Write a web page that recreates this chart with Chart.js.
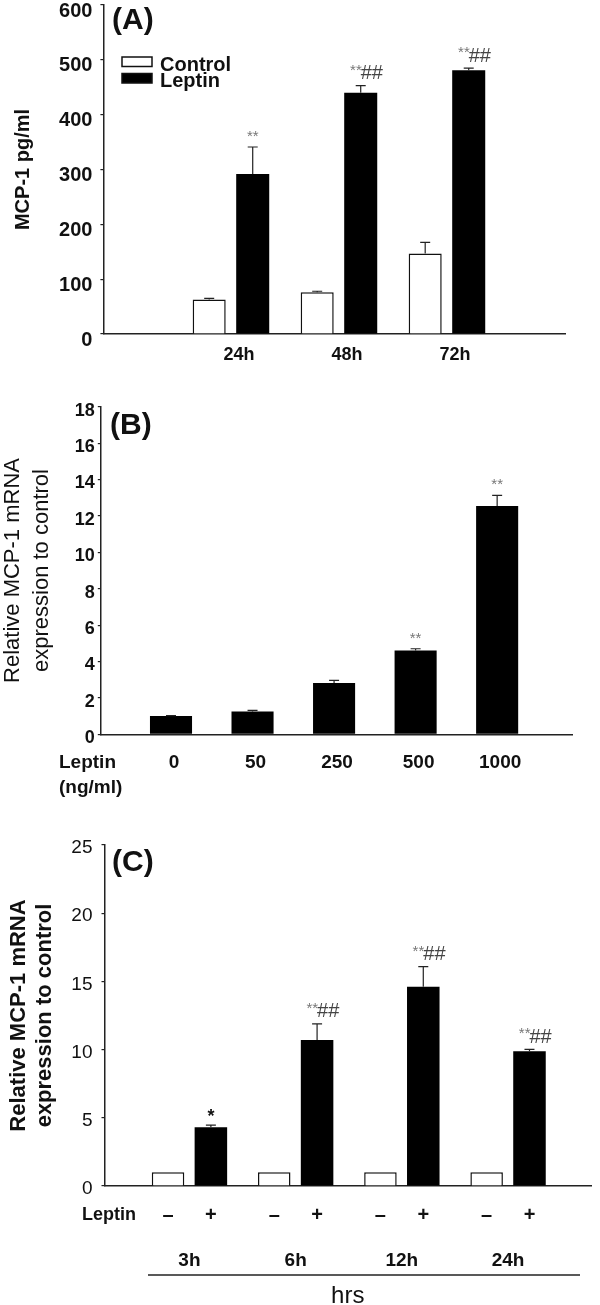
<!DOCTYPE html>
<html>
<head>
<meta charset="utf-8">
<script src="https://cdn.jsdelivr.net/npm/chart.js@4.4.1/dist/chart.umd.min.js"></script>
<style>
  body { margin: 0; background: #fff; width: 600px; height: 1305px; position: relative; overflow: hidden; }
  .panel { position: absolute; left: 0; width: 600px; }
</style>
</head>
<body>
<div class="panel" style="top:0;height:400px"><canvas id="chartA"></canvas></div>
<div class="panel" style="top:400px;height:420px"><canvas id="chartB"></canvas></div>
<div class="panel" style="top:820px;height:485px"><canvas id="chartC"></canvas></div>
<script>
// Panel A - MCP-1 protein over time
const hoursA = ['24h', '48h', '72h'];
const controlA = [63, 76, 147];
const controlErrA = [2, 2, 20];
const leptinA = [292, 440, 481];
const leptinErrA = [49, 13, 4];
const marksA = ['**', '**##', '**##'];

// Panel B - dose response
const dosesB = ['0', '50', '250', '500', '1000'];
const leptinB = [1.0, 1.25, 2.82, 4.6, 12.55];
const leptinErrB = [0.03, 0.07, 0.14, 0.1, 0.58];
const marksB = ['', '', '', '**', '**'];

// Panel C - mRNA time course
const hoursC = ['3h', '6h', '12h', '24h'];
const controlC = [1, 1, 1, 1];
const leptinC = [4.3, 10.7, 14.6, 9.87];
const leptinErrC = [0.17, 1.18, 1.48, 0.15];
const marksC = ['*', '**##', '**##', '**##'];

const FONT = '"Liberation Sans", Arial, sans-serif';
const INK = '#111';

const xy = arr => arr.map((v, i) => ({ x: i + 1, y: v }));

// error bars (upper half only) + significance marks
const errorBars = {
  id: 'errorBars',
  afterDatasetsDraw(chart) {
    const ctx = chart.ctx;
    const yScale = chart.scales.y;
    chart.data.datasets.forEach((ds, di) => {
      if (!ds.errors) return;
      const meta = chart.getDatasetMeta(di);
      meta.data.forEach((bar, i) => {
        const v = ds.data[i].y;
        const err = ds.errors[i];
        const top = yScale.getPixelForValue(v + err);
        ctx.save();
        if (err > 0) {
          ctx.strokeStyle = '#222';
          ctx.lineWidth = 1.2;
          ctx.beginPath();
          ctx.moveTo(bar.x, bar.y);
          ctx.lineTo(bar.x, top);
          ctx.moveTo(bar.x - 5, top);
          ctx.lineTo(bar.x + 5, top);
          ctx.stroke();
        }
        const m = ds.marks ? ds.marks[i] : '';
        if (m) {
          const stars = m.replace(/#/g, '');
          const hashes = m.replace(/\*/g, '');
          ctx.textBaseline = 'middle';
          if (hashes) {
            ctx.font = '15px ' + FONT;
            ctx.fillStyle = '#777';
            ctx.textAlign = 'right';
            ctx.fillText(stars, bar.x + 1, top - 15);
            ctx.font = '20px ' + FONT;
            ctx.fillStyle = '#444';
            ctx.textAlign = 'left';
            ctx.textBaseline = 'bottom';
            ctx.fillText(hashes, bar.x, top - 2);
          } else if (stars === '*') {
            ctx.font = 'bold 18px ' + FONT;
            ctx.fillStyle = INK;
            ctx.textAlign = 'center';
            ctx.fillText(stars, bar.x, top - 8);
          } else {
            ctx.font = '15px ' + FONT;
            ctx.fillStyle = '#777';
            ctx.textAlign = 'center';
            ctx.fillText(stars, bar.x, top - 10);
          }
        }
        ctx.restore();
      });
    });
  }
};

// panel letters, legend and extra labels
const decor = {
  id: 'decor',
  afterDraw(chart, args, opts) {
    const ctx = chart.ctx;
    ctx.save();
    ctx.fillStyle = INK;
    ctx.textBaseline = 'middle';
    (opts.texts || []).forEach(t => {
      ctx.font = t.font;
      ctx.textAlign = t.align || 'left';
      ctx.fillText(t.text, t.x, t.y);
    });
    if (opts.legend) {
      const lg = opts.legend;
      chart.data.datasets.forEach((ds, i) => {
        const y = lg.y + i * lg.step;
        ctx.fillStyle = ds.backgroundColor;
        ctx.fillRect(lg.x, y, 30, 9.5);
        ctx.strokeStyle = INK;
        ctx.lineWidth = 1.5;
        ctx.strokeRect(lg.x, y, 30, 9.5);
        ctx.fillStyle = INK;
        ctx.font = 'bold 20px ' + FONT;
        ctx.textAlign = 'left';
        ctx.fillText(ds.label, lg.x + 38, y + lg.textDy);
      });
    }
    if (opts.signRow) {
      const r = opts.signRow;
      ctx.font = 'bold 20px ' + FONT;
      ctx.textAlign = 'center';
      chart.data.datasets.forEach((ds, di) => {
        chart.getDatasetMeta(di).data.forEach(bar => {
          ctx.fillText(ds.sign, bar.x, r.y);
        });
      });
      ctx.strokeStyle = '#222';
      ctx.lineWidth = 1.5;
      ctx.beginPath();
      ctx.moveTo(r.lineFrom, r.lineY);
      ctx.lineTo(r.lineTo, r.lineY);
      ctx.stroke();
    }
    ctx.restore();
  }
};

Chart.register(errorBars, decor);

function yAxis(min, max, step, width, tick, title) {
  return {
    min: min, max: max,
    afterFit(scale) { scale.width = width; scale.paddingTop = 0; scale.paddingBottom = 0; },
    grid: { drawOnChartArea: false, drawTicks: true, tickLength: 3, color: '#222', lineWidth: 1.2 },
    border: { display: true, color: '#222', width: 1.5 },
    ticks: { stepSize: step, padding: tick.padding, labelOffset: tick.offset, color: INK, font: tick.font },
    title: title
  };
}

function xAxis(min, max, labels, height, padding, labelOffset, font, title) {
  return {
    type: 'linear',
    offset: false,
    min: min, max: max,
    afterFit(scale) { scale.height = height; scale.paddingLeft = 0; scale.paddingRight = 0; },
    grid: { display: false, drawTicks: false, offset: false },
    border: { display: true, color: '#222', width: 1.5 },
    ticks: {
      stepSize: 1, includeBounds: false, autoSkip: false, maxRotation: 0,
      padding: padding, labelOffset: labelOffset, color: INK, font: font,
      callback: v => labels[v - 1] ?? ''
    },
    title: title || { display: false }
  };
}

const common = {
  responsive: true,
  maintainAspectRatio: false,
  animation: false,
  events: []
};

// (A)
new Chart(document.getElementById('chartA'), {
  type: 'bar',
  data: {
    datasets: [{
      label: 'Control',
      data: xy(controlA),
      errors: controlErrA,
      backgroundColor: '#ffffff',
      borderColor: INK,
      borderWidth: 1.5,
      categoryPercentage: 0.806,
      barPercentage: 0.759
    }, {
      label: 'Leptin',
      data: xy(leptinA),
      errors: leptinErrA,
      marks: marksA,
      backgroundColor: '#000000',
      borderColor: '#000000',
      borderWidth: 0,
      categoryPercentage: 0.806,
      barPercentage: 0.759
    }]
  },
  options: {
    ...common,
    layout: { padding: { top: 5, right: 35, left: 0, bottom: 0 } },
    scales: {
      x: xAxis(-0.181, 4.093, hoursA, 66, 10, 8, { family: FONT, size: 18, weight: 'bold' }),
      y: yAxis(0, 600, 100, 103.4,
        { padding: 8, offset: 6, font: { family: FONT, size: 20, weight: 'bold' } }, {
        display: true, text: 'MCP-1 pg/ml', color: INK,
        font: { family: FONT, size: 20, weight: 'bold', lineHeight: 1.2 },
        padding: { top: 11, bottom: 0 }
      })
    },
    plugins: {
      legend: { display: false },
      tooltip: { enabled: false },
      decor: {
        texts: [{ text: '(A)', x: 112, y: 21, font: 'bold 30px ' + FONT }],
        legend: { x: 122, y: 57, step: 16.5, textDy: 8 }
      }
    }
  }
});

// (B)
new Chart(document.getElementById('chartB'), {
  type: 'bar',
  data: {
    datasets: [{
      label: 'Leptin',
      data: xy(leptinB),
      errors: leptinErrB,
      marks: marksB,
      backgroundColor: '#000000',
      borderWidth: 0,
      categoryPercentage: 0.6,
      barPercentage: 0.86
    }]
  },
  options: {
    ...common,
    layout: { padding: { top: 6.7, right: 28, left: 0, bottom: 0 } },
    scales: {
      x: xAxis(0.139, 5.918, dosesB, 85.7, 17, 3, { family: FONT, size: 19, weight: 'bold' }),
      y: yAxis(0, 18, 2, 100.8,
        { padding: 3, offset: 4, font: { family: FONT, size: 18, weight: 'bold' } }, {
        display: true, text: ['Relative MCP-1 mRNA', 'expression to control'], color: INK,
        font: { family: FONT, size: 22, weight: 'normal', lineHeight: 1.3 },
        padding: { top: -1, bottom: 0 }
      })
    },
    plugins: {
      legend: { display: false },
      tooltip: { enabled: false },
      decor: {
        texts: [
          { text: '(B)', x: 110, y: 26, font: 'bold 30px ' + FONT },
          { text: 'Leptin', x: 59, y: 363, font: 'bold 19px ' + FONT },
          { text: '(ng/ml)', x: 59, y: 388, font: 'bold 19px ' + FONT }
        ]
      }
    }
  }
});

// (C)
new Chart(document.getElementById('chartC'), {
  type: 'bar',
  data: {
    datasets: [{
      label: 'Control',
      sign: '\u2013',
      data: xy(controlC),
      errors: [0, 0, 0, 0],
      backgroundColor: '#ffffff',
      borderColor: INK,
      borderWidth: 1.5,
      categoryPercentage: 0.807,
      barPercentage: 0.759
    }, {
      label: 'Leptin',
      sign: '+',
      data: xy(leptinC),
      errors: leptinErrC,
      marks: marksC,
      backgroundColor: '#000000',
      borderWidth: 0,
      categoryPercentage: 0.807,
      barPercentage: 0.759
    }]
  },
  options: {
    ...common,
    layout: { padding: { top: 25, right: 9, left: 0, bottom: 0 } },
    scales: {
      x: xAxis(0.2, 4.781, hoursC, 119, 63, 0, { family: FONT, size: 19, weight: 'bold' }, {
        display: true, text: 'hrs', color: INK,
        font: { family: FONT, size: 24, weight: 'normal', lineHeight: 1.2 },
        padding: { top: 0, bottom: -6 }
      }),
      y: yAxis(0, 25, 5, 104.5,
        { padding: 9, offset: 3, font: { family: FONT, size: 19, weight: 'normal' } }, {
        display: true, text: ['Relative MCP-1 mRNA', 'expression to control'], color: INK,
        font: { family: FONT, size: 22, weight: 'bold', lineHeight: 1.2 },
        padding: { top: 5.8, bottom: 0 }
      })
    },
    plugins: {
      legend: { display: false },
      tooltip: { enabled: false },
      decor: {
        texts: [
          { text: '(C)', x: 112, y: 43, font: 'bold 30px ' + FONT },
          { text: 'Leptin', x: 82, y: 395, font: 'bold 18px ' + FONT }
        ],
        signRow: { y: 395, lineY: 455, lineFrom: 148, lineTo: 580 }
      }
    }
  }
});
</script>
</body>
</html>
